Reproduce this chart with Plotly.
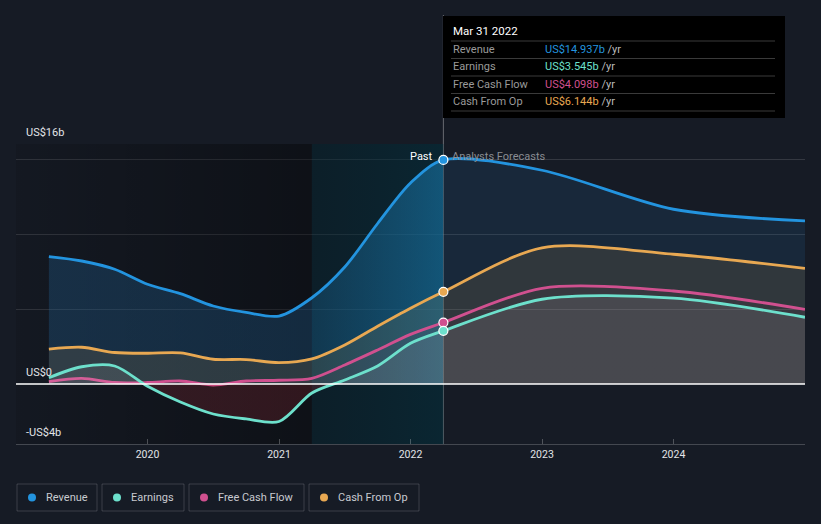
import plotly.graph_objects as go

# ---------------- data ----------------
periods = ["2019-03", "2019-06", "2019-09", "2019-12", "2020-03", "2020-06", "2020-09", "2020-12",
           "2021-03", "2021-06", "2021-09", "2021-12", "2022-03", "2022-12", "2023-12", "2024-12"]
revenue = [8.49, 8.2, 7.65, 6.65, 6.02, 5.2, 4.77, 4.53, 5.75, 7.8, 10.7, 13.4, 14.937, 14.25, 11.65, 10.87]
earnings = [0.42, 1.15, 1.2, -0.15, -1.2, -2.0, -2.33, -2.5, -0.6, 0.27, 1.2, 2.71, 3.545, 5.65, 5.72, 4.45]
free_cash_flow = [0.16, 0.38, 0.1, 0.1, 0.2, -0.07, 0.2, 0.25, 0.38, 1.27, 2.27, 3.31, 4.098, 6.38, 6.2, 4.98]
cash_from_op = [2.33, 2.45, 2.1, 2.05, 2.07, 1.65, 1.63, 1.42, 1.67, 2.6, 3.85, 5.05, 6.144, 9.08, 8.65, 7.71]
year_ticks = [2020, 2021, 2022, 2023, 2024]
last_actual = "2022-03"
tooltip_date = "Mar 31 2022"
y_labels = {16: "US$16b", 0: "US$0", -4: "-US$4b"}

series_names = ["Revenue", "Earnings", "Free Cash Flow", "Cash From Op"]
series_colors = ["#2394df", "#6de0cc", "#d0508f", "#e8a852"]
series_values = [revenue, earnings, free_cash_flow, cash_from_op]

# ---------------- helpers ----------------
def to_year(p):
    y, m = p.split("-")
    return int(y) + int(m) / 12.0

x = [to_year(p) for p in periods]
i_now = periods.index(last_actual)
x_now = x[i_now]
x_hl = x_now - 1.0
X0, X1 = 2019.0, 2025.0
Y0, Y1 = -4, 16

L, R, T, B = 16, 16, 144, 80
W, H = 821, 524
PW, PH = W - L - R, H - T - B

def px(xp):
    return (xp - L) / PW

def py(yp):
    return (H - B - yp) / PH

BG = "#161b25"
FONT = "Roboto"

fig = go.Figure()

# past dark region
fig.add_trace(go.Scatter(
    x=[X0, x_hl, x_hl, X0, X0], y=[Y0, Y0, Y1, Y1, Y0], mode="none", fill="toself",
    fillgradient=dict(type="horizontal", start=X0, stop=x_hl,
                      colorscale=[[0, "rgba(0,0,0,0.10)"], [1, "rgba(0,0,0,0.38)"]]),
    hoverinfo="skip", showlegend=False))
# last-year highlight region
fig.add_trace(go.Scatter(
    x=[x_hl, x_now, x_now, x_hl, x_hl], y=[Y0, Y0, Y1, Y1, Y0], mode="none", fill="toself",
    fillgradient=dict(type="horizontal", start=x_hl, stop=x_now,
                      colorscale=[[0, "rgba(0,35,45,0.45)"], [1, "rgba(0,47,60,0.55)"]]),
    hoverinfo="skip", showlegend=False))

p1 = (x_hl - X0) / (X1 - X0)
p2 = (x_now - X0) / (X1 - X0)
rev_scale = [[0, "rgba(34,103,157,0.30)"], [p1, "rgba(34,103,157,0.30)"],
             [p1, "rgba(28,115,170,0.30)"], [p2, "rgba(28,136,195,0.48)"],
             [p2, "rgba(32,92,142,0.20)"], [1, "rgba(32,92,142,0.20)"]]
z = (0 - Y0) / (Y1 - Y0)
earn_scale = [[0, "rgba(170,45,55,0.22)"], [z, "rgba(170,45,55,0.22)"],
              [z, "rgba(255,255,255,0.08)"], [1, "rgba(255,255,255,0.08)"]]

fills = {
    "Revenue": dict(fillgradient=dict(type="horizontal", start=X0, stop=X1, colorscale=rev_scale)),
    "Cash From Op": dict(fillcolor="rgba(220,160,80,0.13)"),
    "Free Cash Flow": dict(fillcolor="rgba(200,80,140,0.05)"),
    "Earnings": dict(fillgradient=dict(type="vertical", start=Y0, stop=Y1, colorscale=earn_scale)),
}

order = ["Revenue", "Cash From Op", "Free Cash Flow", "Earnings"]
for name in order:
    k = series_names.index(name)
    fig.add_trace(go.Scatter(
        x=x, y=series_values[k], mode="lines", fill="tozeroy",
        line=dict(color=series_colors[k], width=2.8, shape="spline", smoothing=0.85),
        hoverinfo="skip", showlegend=False, **fills[name]))

for name in order:
    k = series_names.index(name)
    fig.add_trace(go.Scatter(
        x=[x_now], y=[series_values[k][i_now]], mode="markers",
        marker=dict(size=9, color=series_colors[k], line=dict(color="white", width=1.2)),
        hoverinfo="skip", showlegend=False))

shapes = []
annotations = []

# zero line
shapes.append(dict(type="line", xref="paper", yref="y", x0=0, x1=1, y0=0, y1=0,
                   line=dict(color="white", width=1.5), layer="above"))
# vertical marker line
shapes.append(dict(type="line", xref="x", yref="paper", x0=x_now, x1=x_now, y0=0, y1=py(15),
                   line=dict(color="rgba(255,255,255,0.35)", width=1), layer="below"))

# y labels
for val, txt in y_labels.items():
    ypix = T + (Y1 - val) / (Y1 - Y0) * PH - 12
    annotations.append(dict(text=txt, xref="paper", yref="paper", x=px(24), y=py(ypix),
                            xanchor="left", yanchor="middle", showarrow=False,
                            font=dict(family=FONT, size=11, color="#e2e4e8")))

# past / forecasts
annotations.append(dict(text="Past", xref="x", yref="paper", x=x_now, xshift=-8, y=py(156),
                        xanchor="right", yanchor="middle", showarrow=False,
                        font=dict(family=FONT, size=11, color="#ffffff")))
annotations.append(dict(text="Analysts Forecasts", xref="x", yref="paper", x=x_now, xshift=7, y=py(156),
                        xanchor="left", yanchor="middle", showarrow=False,
                        font=dict(family=FONT, size=11, color="#8a8d93")))

# tooltip box
shapes.append(dict(type="rect", xref="paper", yref="paper", x0=px(443), x1=px(785), y0=py(118), y1=py(16),
                   fillcolor="#000000", line=dict(width=0), layer="above"))
for ly in [41, 58.5, 76, 93.5, 111]:
    shapes.append(dict(type="line", xref="paper", yref="paper", x0=px(451), x1=px(775), y0=py(ly), y1=py(ly),
                       line=dict(color="#3a3a3a", width=1), layer="above"))
annotations.append(dict(text=tooltip_date, xref="paper", yref="paper", x=px(451), y=py(31),
                        xanchor="left", yanchor="middle", showarrow=False,
                        font=dict(family=FONT, size=11.5, color="#ffffff")))
for r, (name, col, vals) in enumerate(zip(series_names, series_colors, series_values)):
    yy = 49.5 + r * 17.4
    annotations.append(dict(text=name, xref="paper", yref="paper", x=px(451), y=py(yy),
                            xanchor="left", yanchor="middle", showarrow=False,
                            font=dict(family=FONT, size=11, color="#9a9a9a")))
    annotations.append(dict(text=f"<span style='color:{col}'>US${vals[i_now]:.3f}b</span> /yr",
                            xref="paper", yref="paper", x=px(543), y=py(yy),
                            xanchor="left", yanchor="middle", showarrow=False,
                            font=dict(family=FONT, size=11, color="#bbbbbb")))

# custom legend
legend_boxes = [(17, 97), (102, 184), (189, 304), (309, 419)]
for (bx0, bx1), name, col in zip(legend_boxes, series_names, series_colors):
    shapes.append(dict(type="rect", xref="paper", yref="paper", x0=px(bx0), x1=px(bx1), y0=py(511), y1=py(484),
                       line=dict(color="rgba(255,255,255,0.16)", width=1), fillcolor="rgba(0,0,0,0)"))
    shapes.append(dict(type="circle", xref="paper", yref="paper", x0=px(bx0 + 11), x1=px(bx0 + 19),
                       y0=py(501.5), y1=py(493.5), line=dict(width=0), fillcolor=col))
    annotations.append(dict(text=name, xref="paper", yref="paper", x=px(bx0 + 27), y=py(497.5),
                            xanchor="left", yanchor="middle", showarrow=False,
                            font=dict(family=FONT, size=11, color="#c8cad0")))

fig.update_layout(
    width=W, height=H,
    margin=dict(l=L, r=R, t=T, b=B, pad=0),
    paper_bgcolor=BG, plot_bgcolor=BG,
    font=dict(family=FONT, color="#e2e4e8"),
    xaxis=dict(range=[X0, X1], tickvals=year_ticks, ticktext=[str(v) for v in year_ticks],
               showgrid=False, zeroline=False, showline=True, linecolor="rgba(255,255,255,0.2)",
               ticks="inside", ticklen=5, tickcolor="rgba(255,255,255,0.25)",
               tickfont=dict(family=FONT, size=10.5, color="#e2e4e8")),
    yaxis=dict(range=[Y0, Y1], tickvals=[5, 10, 15, 16], showticklabels=False,
               showgrid=True, gridcolor="rgba(255,255,255,0.13)", gridwidth=1, zeroline=False),
    shapes=shapes, annotations=annotations, showlegend=False,
)

fig.write_html("out.html", config={"displayModeBar": False},
               post_script="document.body.style.margin='0';document.body.style.background='" + BG + "';")
